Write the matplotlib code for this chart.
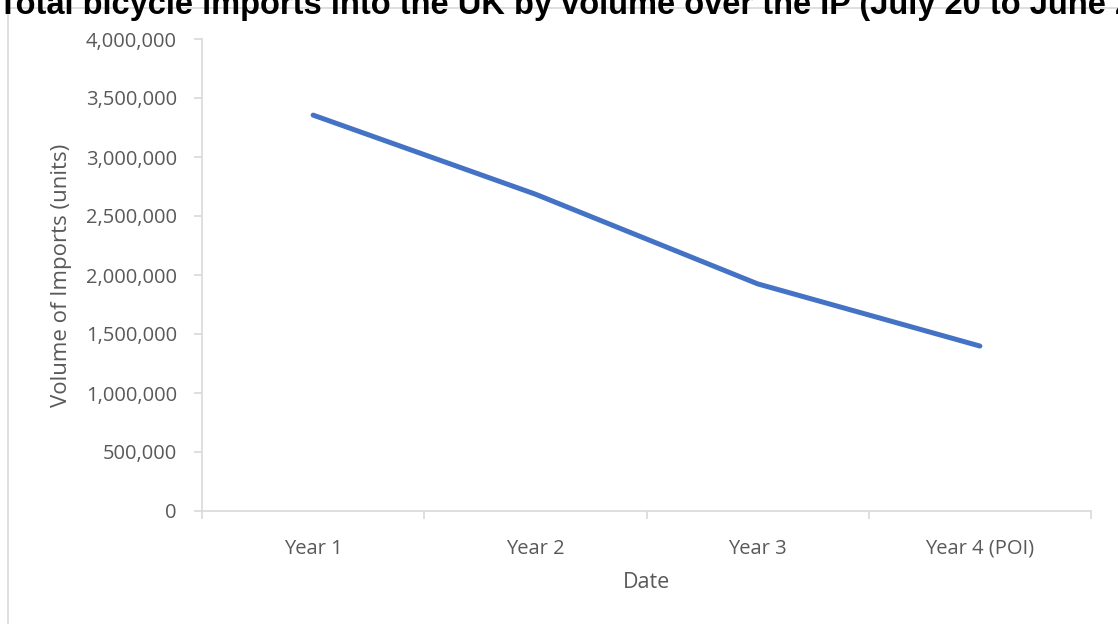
import matplotlib.pyplot as plt
from matplotlib.patches import Rectangle
from matplotlib.ticker import FuncFormatter, FixedLocator

# data
years = ["Year 1", "Year 2", "Year 3", "Year 4 (POI)"]
imports = [3355000, 2685000, 1925000, 1398000]

W, H = 1118, 624
fig = plt.figure(figsize=(W / 100, H / 100), dpi=100)

# outer chart frame (runs off the right and bottom edges)
fig.patches.append(Rectangle((8 / W, -0.05), 1.1, 1 - 8 / H + 0.05,
                             transform=fig.transFigure, fill=False,
                             edgecolor="#d9d9d9", linewidth=1.2))

# title, clipped by the top of the image like in the reference
fig.text(-2 / W, 1 - 14 / H,
         "Total bicycle imports into the UK by volume over the IP (July 20 to June 21)",
         fontsize=23.5, fontweight="bold", family="Liberation Sans",
         color="black", ha="left", va="baseline")

ax = fig.add_axes([202 / W, 1 - 511 / H, (1091 - 202) / W, (511 - 39) / H])

x = list(range(len(years)))
ax.plot(x, imports, color="#4472C4", linewidth=3.6, solid_capstyle="round",
        solid_joinstyle="round")

ax.set_xlim(-0.5, len(years) - 0.5)
ax.set_ylim(0, 4000000)
ax.set_yticks(range(0, 4000001, 500000))
ax.yaxis.set_major_formatter(FuncFormatter(lambda v, p: f"{int(v):,}"))

# ticks between categories, labels at category centres
ax.xaxis.set_major_locator(FixedLocator([i - 0.5 for i in range(len(years) + 1)]))
ax.xaxis.set_major_formatter(FuncFormatter(lambda v, p: ""))
ax.set_xticks(x, labels=years, minor=True)

for s in ["top", "right"]:
    ax.spines[s].set_visible(False)
for s in ["left", "bottom"]:
    ax.spines[s].set_color("#d9d9d9")
    ax.spines[s].set_linewidth(1.2)

ax.tick_params(axis="y", which="major", length=6, width=1.2, color="#d9d9d9",
               pad=12, labelcolor="#595959", labelsize=14.5)
ax.tick_params(axis="x", which="major", length=6, width=1.2, color="#d9d9d9")
ax.tick_params(axis="x", which="minor", length=0, pad=20,
               labelcolor="#595959", labelsize=14.5)
for lbl in ax.get_yticklabels() + ax.get_xticklabels(minor=True):
    lbl.set_family("Open Sans")

ax.set_xlabel("Date", family="Open Sans", fontsize=15.5, color="#595959")
ax.set_ylabel("Volume of Imports (units)", family="Open Sans", fontsize=16,
              color="#595959")
ax.xaxis.set_label_coords(0.5, (511 - 582) / 472)
ax.xaxis.label.set_va("center")
ax.yaxis.set_label_coords((62 - 202) / 889, 0.5)
ax.yaxis.label.set_va("center")

fig.savefig("out.png", dpi=100)
